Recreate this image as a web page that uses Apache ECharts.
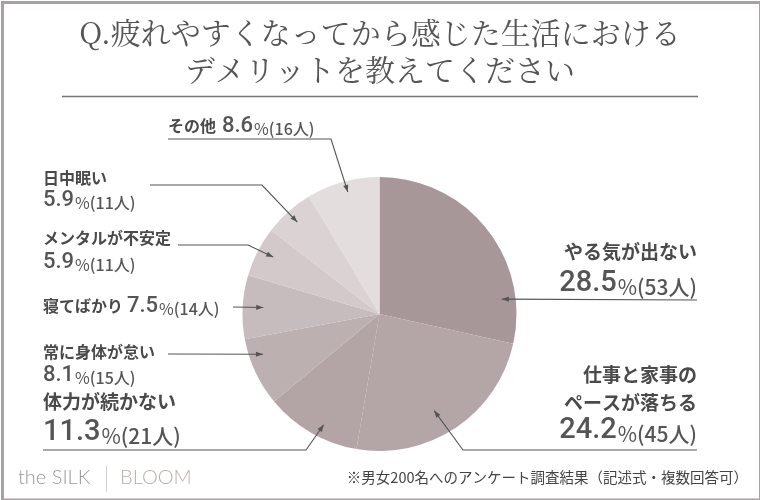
<!DOCTYPE html>
<html>
<head>
<meta charset="utf-8">
<script src="https://cdn.jsdelivr.net/npm/echarts@6/dist/echarts.min.js"></script>
<style>
  html, body { margin: 0; padding: 0; background: #fff; }
  #chart { width: 760px; height: 500px; }
</style>
</head>
<body>
<div id="chart"></div>
<script>
// data
const categories = ['やる気が出ない', '仕事と家事のペースが落ちる', '体力が続かない', '常に身体が怠い', '寝てばかり', 'メンタルが不安定', '日中眠い', 'その他']
const counts = [53, 45, 21, 15, 14, 11, 11, 16]
const percents = ['28.5', '24.2', '11.3', '8.1', '7.5', '5.9', '5.9', '8.6']
const titleLines = ['Q.疲れやすくなってから感じた生活における', 'デメリットを教えてください']
const footnote = '※男女200名へのアンケート調査結果（記述式・複数回答可）'

const colors = ['#a89798', '#b4a6a7', '#b3a4a5', '#bdb0b1', '#c7bcbd', '#d3c9ca', '#dad2d3', '#e3dddd']

const chart = echarts.init(document.getElementById('chart'), null, { renderer: 'canvas' })

const cx = 379.5, cy = 314, R = 137
const total = counts.reduce((a, b) => a + b, 0)
const SANS = '"Noto Sans CJK JP", "Noto Sans", sans-serif'
const NUM = 'Roboto, "Noto Sans", sans-serif'
const INK = '#4a4a4a'

// point inside slice i: t = fraction along the slice (clockwise), rf = fraction of radius
function tipOf(i, t, rf) {
  let start = 0
  for (let k = 0; k < i; k++) start += counts[k]
  const a = (start + counts[i] * t) / total * Math.PI * 2
  return [cx + Math.sin(a) * R * rf, cy - Math.cos(a) * R * rf]
}

function numText(i) {
  return '{n|' + percents[i] + '}{p|%}{c|(' + counts[i] + '人)}'
}
function numRich(big) {
  const n = big ? 29 : 22, p = big ? 21 : 16, c = big ? 21 : 16
  return {
    n: { font: '500 ' + n + 'px ' + NUM, fill: '#555', verticalAlign: 'bottom', lineHeight: n },
    p: { font: '400 ' + p + 'px ' + SANS, fill: '#555', verticalAlign: 'bottom', lineHeight: n, padding: [0, 0, 0, 1] },
    c: { font: '500 ' + c + 'px ' + SANS, fill: '#555', verticalAlign: 'bottom', lineHeight: n }
  }
}

// label layout: text rows + leader path (ends at a point inside the slice)
const callouts = [
  { i: 0, t: 0.81, rf: 0.90, align: 'right', rows: [['やる気が出ない', 697, 252, 19], ['#', 697, 283, 1]], path: [[697, 300]] },
  { i: 1, t: 0.55, rf: 0.81, align: 'right', rows: [['仕事と家事の', 697, 375, 19], ['ペースが落ちる', 697, 403, 19], ['#', 697, 430, 1]], path: [[697, 450], [463, 450]] },
  { i: 2, t: 0.42, rf: 0.905, align: 'left', rows: [['体力が続かない', 43, 402, 19], ['#', 43, 432, 1]], path: [[43, 450], [306, 450]] },
  { i: 3, t: 0.71, rf: 0.90, align: 'left', rows: [['常に身体が怠い', 43, 352, 16], ['#', 43, 375, 0]], path: [[168, 354]] },
  { i: 4, t: 0.51, rf: 0.85, align: 'left', rows: [['寝てばかり', 43, 306, 16], ['#', 127, 306, 0]], path: [[233, 307]] },
  { i: 5, t: 0.55, rf: 0.88, align: 'left', rows: [['メンタルが不安定', 43, 238, 16], ['#', 43, 262, 0]], path: [[178, 245], [248, 245]] },
  { i: 6, t: 0.49, rf: 0.90, align: 'left', rows: [['日中眠い', 43, 178, 16], ['#', 43, 200, 0]], path: [[150, 185], [262, 185]] },
  { i: 7, t: 0.53, rf: 0.92, align: 'left', rows: [['その他', 168, 126, 16], ['#', 222, 126, 0]], path: [[168, 139], [331, 139]] }
]

const graphics = []

// frame
graphics.push({
  type: 'rect', left: 0, top: 0, silent: true,
  shape: { x: 0.5, y: 0.5, width: 758, height: 497.5 },
  style: { fill: 'none', stroke: '#aaa0a4', lineWidth: 3 }
})

// title
titleLines.forEach((t, k) => {
  graphics.push({
    type: 'text', silent: true,
    style: {
      text: t, x: 380, y: k === 0 ? 33 : 70, align: 'center', verticalAlign: 'middle',
      font: '400 30px "Noto Serif CJK JP", "Noto Sans CJK JP", serif', fill: '#555'
    }
  })
})
graphics.push({
  type: 'line', silent: true,
  shape: { x1: 62, y1: 96.5, x2: 698, y2: 96.5 },
  style: { stroke: '#777', lineWidth: 1.3 }
})

callouts.forEach(c => {
  c.rows.forEach(r => {
    const [txt, x, y, size] = r
    if (txt === '#') {
      const big = size === 1
      graphics.push({
        type: 'text', silent: true,
        style: {
          text: numText(c.i), x: x, y: y + (big ? 15 : 11), align: c.align, verticalAlign: 'bottom',
          rich: numRich(big)
        }
      })
    } else {
      graphics.push({
        type: 'text', silent: true,
        style: {
          text: txt, x: x, y: y, align: c.align, verticalAlign: 'middle',
          font: '700 ' + size + 'px ' + SANS, fill: INK
        }
      })
    }
  })
  const tip = tipOf(c.i, c.t, c.rf)
  const pts = c.path.concat([tip])
  graphics.push({
    type: 'polyline', silent: true, z: 10,
    shape: { points: pts },
    style: { stroke: '#555', lineWidth: 1.1, fill: null }
  })
  // arrow head
  const prev = pts[pts.length - 2]
  const dx = tip[0] - prev[0], dy = tip[1] - prev[1]
  const len = Math.hypot(dx, dy)
  const ux = dx / len, uy = dy / len
  const bx = tip[0] - ux * 7, by = tip[1] - uy * 7
  graphics.push({
    type: 'polygon', silent: true, z: 10,
    shape: { points: [tip, [bx - uy * 2.6, by + ux * 2.6], [bx + uy * 2.6, by - ux * 2.6]] },
    style: { fill: '#555' }
  })
})

// footer
graphics.push({
  type: 'text', silent: true,
  style: { text: 'the SILK', x: 18, y: 478, verticalAlign: 'middle', font: '300 20px Lato, "Open Sans", sans-serif', fill: '#999' }
})
graphics.push({
  type: 'line', silent: true,
  shape: { x1: 106.5, y1: 466, x2: 106.5, y2: 492 },
  style: { stroke: '#cfcfcf', lineWidth: 1 }
})
graphics.push({
  type: 'text', silent: true,
  style: { text: 'BLOOM', x: 120, y: 478, verticalAlign: 'middle', font: '300 20px Lato, "Open Sans", sans-serif', fill: '#b8afa8' }
})
graphics.push({
  type: 'text', silent: true,
  style: { text: footnote, x: 748, y: 477, align: 'right', verticalAlign: 'middle', font: '400 14.5px ' + SANS, fill: '#444' }
})

const option = {
  backgroundColor: '#fff',
  animation: false,
  series: [
    {
      type: 'pie',
      center: [cx, cy],
      radius: R,
      startAngle: 90,
      clockwise: true,
      silent: true,
      label: { show: false },
      labelLine: { show: false },
      itemStyle: { borderWidth: 0 },
      emphasis: { disabled: true },
      data: categories.map((name, i) => ({
        name: name,
        value: counts[i],
        itemStyle: { color: colors[i] }
      }))
    }
  ],
  graphic: graphics
}

chart.setOption(option)
</script>
</body>
</html>
